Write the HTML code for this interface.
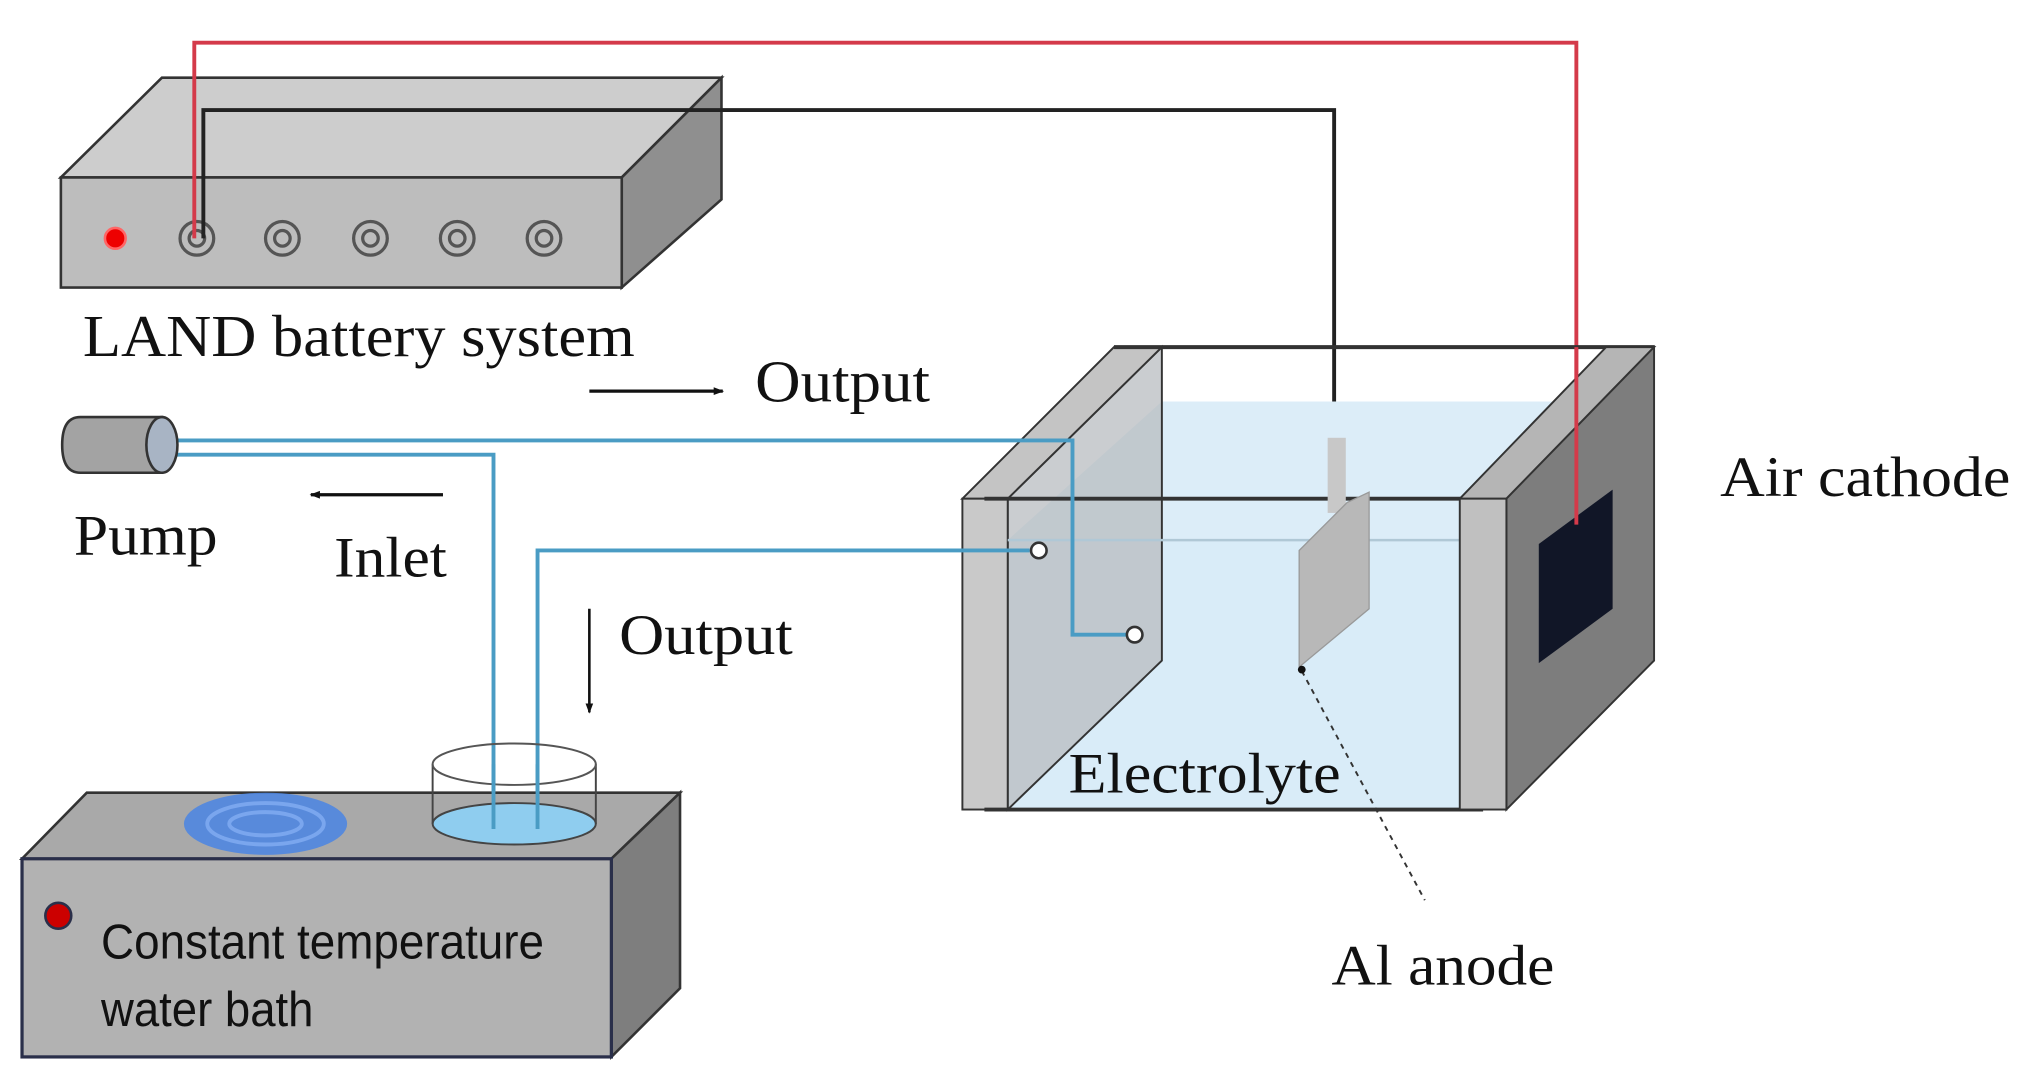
<!DOCTYPE html>
<html><head><meta charset="utf-8"><style>
html,body{margin:0;padding:0;background:#fff;width:2031px;height:1077px;overflow:hidden}
svg{display:block}
.serif{font-family:"Liberation Serif",serif;fill:#111}
.sans{font-family:"Liberation Sans",sans-serif;fill:#111}
</style></head><body>
<svg width="2031" height="1077" viewBox="0 0 1568 831.5" preserveAspectRatio="none" xmlns="http://www.w3.org/2000/svg">
<defs>
<marker id="ah" markerWidth="8" markerHeight="8" refX="7" refY="4" orient="auto" markerUnits="userSpaceOnUse"><path d="M0,1 L8,4 L0,7 Z" fill="#111"/></marker>
</defs>
<!-- LAND box -->
<polygon points="47,137 125,60 557,60 480,137" fill="#cdcdcd" stroke="#333" stroke-width="2"/>
<polygon points="480,137 557,60 557,154 480,222" fill="#8f8f8f" stroke="#333" stroke-width="2"/>
<rect x="47" y="137" width="433" height="85" fill="#bdbdbd" stroke="#333" stroke-width="2"/>
<circle cx="89" cy="184" r="8" fill="#e00" stroke="#f66" stroke-width="2"/>
<g fill="none" stroke="#555" stroke-width="2.5">
<circle cx="152" cy="184" r="13"/><circle cx="152" cy="184" r="6"/>
<circle cx="218" cy="184" r="13"/><circle cx="218" cy="184" r="6"/>
<circle cx="286" cy="184" r="13"/><circle cx="286" cy="184" r="6"/>
<circle cx="353" cy="184" r="13"/><circle cx="353" cy="184" r="6"/>
<circle cx="420" cy="184" r="13"/><circle cx="420" cy="184" r="6"/>
</g>
<!-- wires -->
<polyline points="150,184 150,33 1217,33 1217,405" fill="none" stroke="#d43a4a" stroke-width="3"/>
<polyline points="157,184 157,85 1030,85 1030,340" fill="none" stroke="#222" stroke-width="3"/>
<text x="64" y="275" class="serif" font-size="46" textLength="426" lengthAdjust="spacingAndGlyphs">LAND battery system</text>
<line x1="455" y1="302" x2="558" y2="302" stroke="#111" stroke-width="2.5" marker-end="url(#ah)"/>
<text x="583" y="310" class="serif" font-size="46" textLength="135" lengthAdjust="spacingAndGlyphs">Output</text>
<!-- cell -->
<polygon points="897,310 1240,310 1163,417 778,417" fill="#dcedf8"/>
<rect x="778" y="417" width="349" height="208" fill="#d9ecf8"/>
<polygon points="778,385 897,268 897,510 778,625" fill="#b8bcc0" fill-opacity="0.75" stroke="#333" stroke-width="1.5"/>
<polygon points="743,385 860,268 897,268 778,385" fill="#c4c4c4" stroke="#333" stroke-width="1.5"/>
<rect x="743" y="385" width="35" height="240" fill="#c9c9c9" stroke="#333" stroke-width="1.5"/>
<line x1="778" y1="417" x2="1127" y2="417" stroke="#b0c8d6" stroke-width="2"/>
<line x1="860" y1="268" x2="1277" y2="268" stroke="#333" stroke-width="3"/>
<line x1="760" y1="385" x2="1145" y2="385" stroke="#333" stroke-width="3"/>
<line x1="760" y1="625" x2="1145" y2="625" stroke="#333" stroke-width="3"/>
<polygon points="1127,385 1240,268 1277,268 1163,385" fill="#b5b5b5" stroke="#333" stroke-width="1.5"/>
<polygon points="1163,385 1277,268 1277,510 1163,625" fill="#7d7d7d" stroke="#333" stroke-width="1.5"/>
<rect x="1127" y="385" width="36" height="240" fill="#c0c0c0" stroke="#333" stroke-width="1.5"/>
<polygon points="1188,420 1245,378 1245,470 1188,512" fill="#111627"/>
<line x1="1217" y1="268" x2="1217" y2="405" stroke="#d43a4a" stroke-width="3"/>
<!-- anode -->
<rect x="1025" y="338" width="14" height="58" fill="#c8c8c8"/>
<polygon points="1003,425 1040,388 1057,380 1057,470 1003,515" fill="#b8b8b8" stroke="#999" stroke-width="1"/>
<line x1="1005" y1="518" x2="1100" y2="695" stroke="#333" stroke-width="1.5" stroke-dasharray="4,4"/>
<circle cx="1005" cy="517" r="3" fill="#111"/>
<text x="825" y="612" class="serif" font-size="44" textLength="210" lengthAdjust="spacingAndGlyphs">Electrolyte</text>
<text x="1328" y="383" class="serif" font-size="44" textLength="224" lengthAdjust="spacingAndGlyphs">Air cathode</text>
<text x="1028" y="760" class="serif" font-size="44" textLength="172" lengthAdjust="spacingAndGlyphs">Al anode</text>
<!-- tubes -->
<g fill="none" stroke="#4a9cc4" stroke-width="3">
<polyline points="135,340 828,340 828,490 870,490"/>
<polyline points="135,351 381,351 381,640"/>
<polyline points="415,640 415,425 795,425"/>
</g>
<circle cx="802" cy="425" r="6" fill="#fff" stroke="#333" stroke-width="2"/>
<circle cx="876" cy="490" r="6" fill="#fff" stroke="#333" stroke-width="2"/>
<!-- pump -->
<path d="M62,322 L125,322 L125,365 L62,365 Q48,365 48,343.5 Q48,322 62,322 Z" fill="#a3a3a3" stroke="#333" stroke-width="2"/>
<ellipse cx="125" cy="343.5" rx="12" ry="21.5" fill="#a8b4c4" stroke="#333" stroke-width="2"/>
<text x="57" y="428" class="serif" font-size="44" textLength="111" lengthAdjust="spacingAndGlyphs">Pump</text>
<line x1="342" y1="382" x2="240" y2="382" stroke="#111" stroke-width="2.5" marker-end="url(#ah)"/>
<text x="258" y="445" class="serif" font-size="44" textLength="87" lengthAdjust="spacingAndGlyphs">Inlet</text>
<line x1="455" y1="470" x2="455" y2="550" stroke="#111" stroke-width="2" marker-end="url(#ah)"/>
<text x="478" y="505" class="serif" font-size="44" textLength="134" lengthAdjust="spacingAndGlyphs">Output</text>
<!-- water bath -->
<polygon points="17,663 67,612 525,612 472,663" fill="#a9a9a9" stroke="#333" stroke-width="2"/>
<polygon points="472,663 525,612 525,763 472,816" fill="#7e7e7e" stroke="#333" stroke-width="2"/>
<rect x="17" y="663" width="455" height="153" fill="#b2b2b2" stroke="#2a2f4a" stroke-width="2.5"/>
<ellipse cx="205" cy="636" rx="63" ry="24" fill="#4f86e0" fill-opacity="0.9"/>
<ellipse cx="205" cy="636" rx="45" ry="16" fill="none" stroke="#7aa6ee" stroke-width="3"/>
<ellipse cx="205" cy="636" rx="28" ry="9" fill="none" stroke="#7aa6ee" stroke-width="3"/>
<ellipse cx="397" cy="636" rx="63" ry="16" fill="#8fcdef" stroke="#444" stroke-width="1.5"/>
<line x1="334" y1="590" x2="334" y2="636" stroke="#444" stroke-width="1.5"/>
<line x1="460" y1="590" x2="460" y2="636" stroke="#444" stroke-width="1.5"/>
<ellipse cx="397" cy="590" rx="63" ry="16" fill="none" stroke="#555" stroke-width="1.5"/>
<line x1="381" y1="590" x2="381" y2="640" stroke="#4a9cc4" stroke-width="3"/>
<line x1="415" y1="590" x2="415" y2="640" stroke="#4a9cc4" stroke-width="3"/>
<circle cx="45" cy="707" r="10" fill="#c00" stroke="#2a2f4a" stroke-width="2"/>
<text x="78" y="740" class="sans" font-size="38" textLength="342" lengthAdjust="spacingAndGlyphs">Constant temperature</text>
<text x="78" y="792" class="sans" font-size="38" textLength="164" lengthAdjust="spacingAndGlyphs">water bath</text>
</svg>
</body></html>
